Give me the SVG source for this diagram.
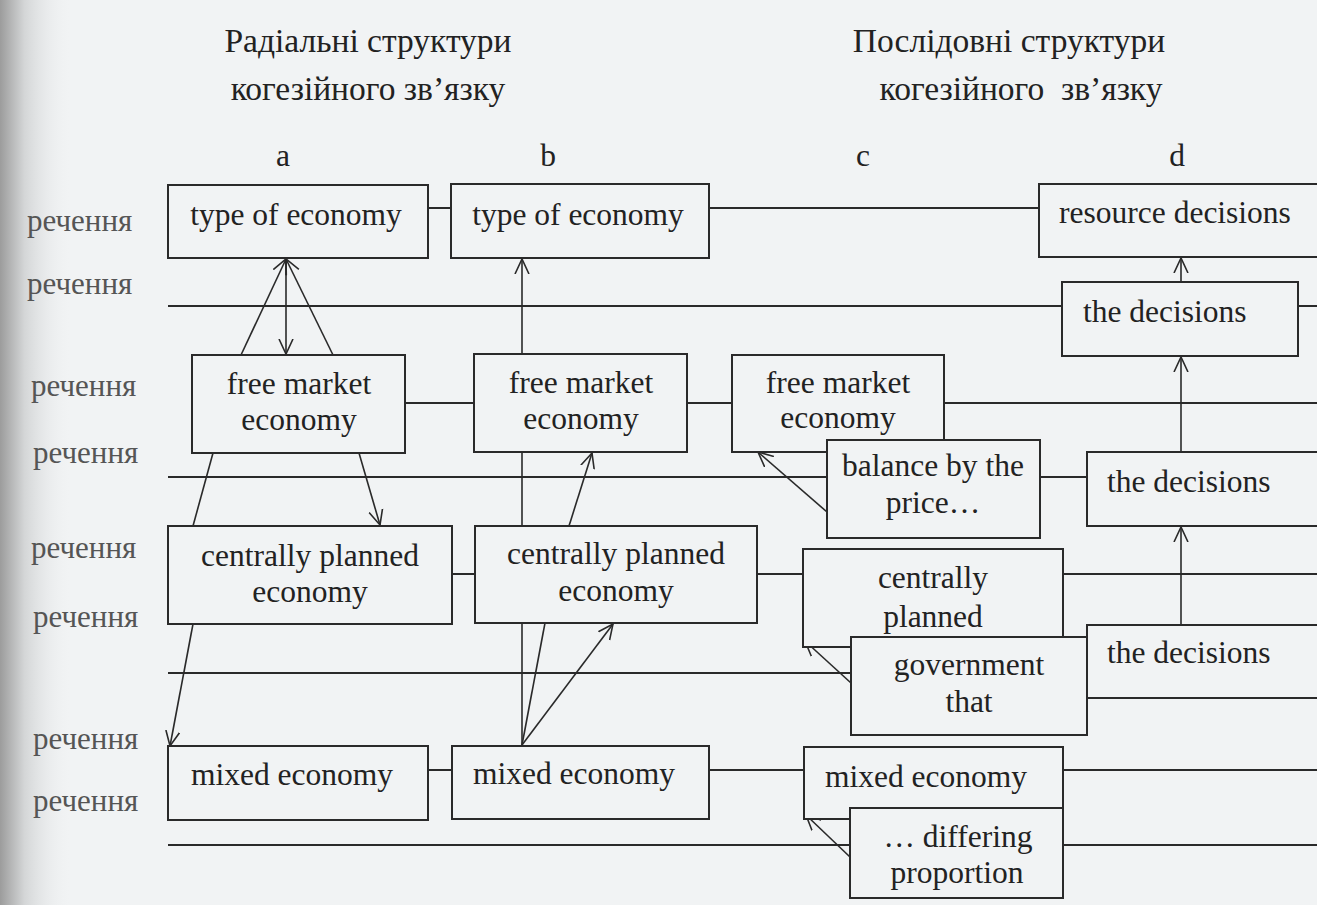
<svg xmlns="http://www.w3.org/2000/svg" width="1317" height="905" viewBox="0 0 1317 905">
<defs>
<linearGradient id="shade" x1="0" y1="0" x2="1" y2="0">
<stop offset="0" stop-color="#9c9c9c"/>
<stop offset="0.35" stop-color="#d4d6d7"/>
<stop offset="1" stop-color="#eef0f1" stop-opacity="0"/>
</linearGradient>
<marker id="arr" viewBox="0 0 16 16" refX="15" refY="8" markerWidth="16" markerHeight="16" markerUnits="userSpaceOnUse" orient="auto">
<path d="M0,1 L15,8 L0,15" fill="none" stroke="#2a2a2a" stroke-width="1.6"/>
</marker>
<style>
.t{font-family:"Liberation Serif","Times New Roman",serif;font-size:31.5px;fill:#222}
.h{font-size:33.5px}
.m{text-anchor:middle}
.lab{font-family:"Liberation Serif","Times New Roman",serif;font-size:31px;fill:#555}
.box{fill:#f1f3f4;stroke:#2a2a2a;stroke-width:2}
.ln{stroke:#2a2a2a;stroke-width:1.8;fill:none}
.ar{stroke:#2a2a2a;stroke-width:1.6;fill:none;marker-end:url(#arr)}
.pl{stroke:#2a2a2a;stroke-width:1.6;fill:none}
</style>
</defs>
<rect width="1317" height="905" fill="#f1f3f4"/>
<rect width="70" height="905" fill="url(#shade)"/>

<g id="titles">
<text class="t h m" x="368" y="52">Радіальні структури</text>
<text class="t h m" x="368" y="100">когезійного зв’язку</text>
<text class="t h m" x="1009" y="52">Послідовні структури</text>
<text class="t h m" x="1021" y="100" style="white-space:pre">когезійного  зв’язку</text>
<text class="t m" x="283" y="166">a</text>
<text class="t m" x="548" y="166">b</text>
<text class="t m" x="863" y="166">c</text>
<text class="t m" x="1177" y="166">d</text>
</g>

<g id="row-labels">
<text class="lab" x="27" y="231">речення</text>
<text class="lab" x="27" y="294">речення</text>
<text class="lab" x="31" y="396">речення</text>
<text class="lab" x="33" y="463">речення</text>
<text class="lab" x="31" y="558">речення</text>
<text class="lab" x="33" y="627">речення</text>
<text class="lab" x="33" y="749">речення</text>
<text class="lab" x="33" y="811">речення</text>
</g>

<g id="connectors">
<line class="ln" x1="428" y1="208" x2="1039" y2="208"/>
<line class="ln" x1="168" y1="306" x2="1317" y2="306"/>
<line class="ln" x1="405" y1="403" x2="1317" y2="403"/>
<line class="ln" x1="168" y1="477" x2="1087" y2="477"/>
<line class="ln" x1="452" y1="574" x2="1317" y2="574"/>
<line class="ln" x1="168" y1="673" x2="1317" y2="673"/>
<line class="ln" x1="428" y1="770" x2="1317" y2="770"/>
<line class="ln" x1="168" y1="845" x2="1317" y2="845"/>

<line class="ar" x1="241" y1="355" x2="286" y2="259"/>
<line class="ar" x1="333" y1="355" x2="286" y2="259"/>
<line class="ar" x1="286" y1="259" x2="286" y2="354"/>
<line class="pl" x1="213" y1="453" x2="193" y2="526"/>
<line class="ar" x1="193" y1="624" x2="170" y2="746"/>
<line class="ar" x1="359" y1="453" x2="380" y2="525"/>

<line class="ar" x1="522" y1="354" x2="522" y2="259"/>
<line class="pl" x1="522" y1="452" x2="522" y2="745"/>
<line class="ar" x1="569" y1="526" x2="592" y2="453"/>
<line class="pl" x1="522" y1="745" x2="545" y2="623"/>
<line class="ar" x1="522" y1="745" x2="613" y2="624"/>

<line class="ar" x1="827" y1="512" x2="758" y2="452"/>
<line class="ar" x1="851" y1="683" x2="805" y2="641"/>
<line class="ar" x1="850" y1="857" x2="806" y2="815"/>

<line class="ar" x1="1181" y1="282" x2="1181" y2="258"/>
<line class="ar" x1="1181" y1="452" x2="1181" y2="357"/>
<line class="ar" x1="1181" y1="625" x2="1181" y2="527"/>
</g>

<g id="a1"><rect class="box" x="168" y="185" width="260" height="73"/><text class="t m" x="296" y="225">type of economy</text></g>
<g id="b1"><rect class="box" x="451" y="184" width="258" height="74"/><text class="t m" x="578" y="225">type of economy</text></g>
<g id="d1"><rect class="box" x="1039" y="184" width="300" height="73"/><text class="t m" x="1175" y="223">resource decisions</text></g>
<g id="d2"><rect class="box" x="1062" y="282" width="236" height="74"/><text class="t" x="1083" y="322">the decisions</text></g>

<g id="a2"><rect class="box" x="192" y="355" width="213" height="98"/><text class="t m" x="299" y="394">free market</text><text class="t m" x="299" y="430">economy</text></g>
<g id="b2"><rect class="box" x="474" y="354" width="213" height="98"/><text class="t m" x="581" y="393">free market</text><text class="t m" x="581" y="429">economy</text></g>
<g id="c2"><rect class="box" x="732" y="355" width="212" height="97"/><text class="t m" x="838" y="393">free market</text><text class="t m" x="838" y="428">economy</text></g>
<g id="c2b"><rect class="box" x="827" y="440" width="213" height="98"/><text class="t m" x="933" y="476">balance by the</text><text class="t m" x="933" y="513">price…</text></g>
<g id="d3"><rect class="box" x="1087" y="452" width="260" height="74"/><text class="t" x="1107" y="492">the decisions</text></g>

<g id="a3"><rect class="box" x="168" y="526" width="284" height="98"/><text class="t m" x="310" y="566">centrally planned</text><text class="t m" x="310" y="602">economy</text></g>
<g id="b3"><rect class="box" x="475" y="526" width="282" height="97"/><text class="t m" x="616" y="564">centrally planned</text><text class="t m" x="616" y="601">economy</text></g>
<g id="c3"><rect class="box" x="803" y="549" width="260" height="98"/><text class="t m" x="933" y="588">centrally</text><text class="t m" x="933" y="627">planned</text></g>
<g id="c3b"><rect class="box" x="851" y="637" width="236" height="98"/><text class="t m" x="969" y="675">government</text><text class="t m" x="969" y="712">that</text></g>
<g id="d4"><rect class="box" x="1087" y="625" width="260" height="73"/><text class="t" x="1107" y="663">the decisions</text></g>

<g id="a4"><rect class="box" x="168" y="746" width="260" height="74"/><text class="t m" x="292" y="785">mixed economy</text></g>
<g id="b4"><rect class="box" x="452" y="746" width="257" height="73"/><text class="t m" x="574" y="784">mixed economy</text></g>
<g id="c4"><rect class="box" x="804" y="747" width="259" height="72"/><text class="t m" x="926" y="787">mixed economy</text></g>
<g id="c4b"><rect class="box" x="850" y="808" width="213" height="90"/><text class="t m" x="958" y="847">… differing</text><text class="t m" x="957" y="883">proportion</text></g>
</svg>
